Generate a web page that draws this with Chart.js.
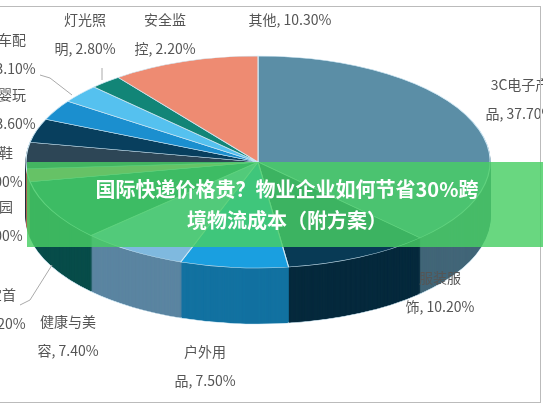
<!DOCTYPE html>
<html><head><meta charset="utf-8">
<script src="https://cdn.jsdelivr.net/npm/chart.js@4"></script>
<style>
body{margin:0;background:#fff;font-family:"Noto Sans CJK SC",sans-serif;}
#wrap{position:relative;width:543px;height:408px;overflow:hidden;}
#frame{position:absolute;left:-2px;top:6px;width:541px;height:395px;border:1px solid #bbb;pointer-events:none;}
#banner{position:absolute;left:27px;top:162px;width:520px;height:85px;background:rgba(72,206,100,0.82);
 color:#fff;font-weight:bold;font-size:20px;line-height:31px;text-align:center;padding-top:11px;box-sizing:border-box;}
</style></head>
<body><div id="wrap"><canvas id="c" width="543" height="408"></canvas><div id="frame"></div>
<div id="banner">国际快递价格贵？物业企业如何节省30%跨<br>境物流成本（附方案）</div></div>
<script>
const categories = ['3C电子产品','服装服饰','户外用品','健康与美容','珠宝首饰','家居园艺','箱包鞋首','母婴玩具','汽车配件','灯光照明','安全监控','其他'];
const shares = [37.7, 10.2, 7.5, 7.4, 9.2, 2.0, 4.0, 3.6, 3.1, 2.8, 2.2, 10.3];
const colors = ['#5b8ea6','#083a55','#1a9fe0','#7fb9df','#0b6b67','#ec8a70','#2d4656','#083f5e','#1b8fcf','#55c1ef','#128577','#ee8b72'];

// label layout (centre of first text line)
const labelPos = [[520,90],[440,283],[205,357],[68,327],[-5,300],[-8,212],[-8,158],[5,100],[5,45],[85,25],[165,25],[290,25]];

const CX = 258, CY = 162, RX = 232, RY = 106, DEPTH = 56;

function shade(hex, f) {
  const n = parseInt(hex.slice(1), 16);
  const r = Math.round(((n >> 16) & 255) * f), g = Math.round(((n >> 8) & 255) * f), b = Math.round((n & 255) * f);
  return `rgb(${r},${g},${b})`;
}

const pie3d = {
  id: 'pie3d',
  beforeDatasetsDraw(chart) {
    const ctx = chart.ctx;
    const arcs = chart.getDatasetMeta(0).data;
    const a0 = arcs[0];
    ctx.save();
    ctx.translate(CX, CY);
    ctx.scale(RX / a0.outerRadius, RY / a0.outerRadius);
    ctx.translate(-a0.x, -a0.y);
    const k = a0.outerRadius / RY;
    for (let d = DEPTH; d > 0; d -= 1) {
      ctx.save();
      ctx.translate(0, d * k);
      arcs.forEach((el, i) => {
        const bg = el.options.backgroundColor, bc = el.options.borderColor;
        el.options.backgroundColor = shade(colors[i], 0.72);
        el.options.borderColor = d === DEPTH ? '#cfe8f5' : shade(colors[i], 0.72);
        el.draw(ctx);
        el.options.backgroundColor = bg; el.options.borderColor = bc;
      });
      ctx.restore();
    }
  },
  afterDatasetsDraw(chart) {
    const ctx = chart.ctx;
    ctx.restore();
    ctx.save();
    ctx.fillStyle = '#555';
    ctx.font = '14px "Noto Sans CJK SC", sans-serif';
    ctx.textAlign = 'center';
    categories.forEach((name, i) => {
      const [x, y] = labelPos[i];
      const pct = shares[i].toFixed(2) + '%';
      if (name.length <= 2) {
        ctx.fillText(name + ', ' + pct, x, y);
      } else {
        ctx.fillText(name.slice(0, -1), x, y);
        ctx.fillText(name.slice(-1) + ', ' + pct, x, y + 29);
      }
    });
    // leader lines
    ctx.strokeStyle = '#aaa';
    ctx.lineWidth = 1;
    [[[40,75],[50,78],[72,95]],[[102,80],[102,68]],[[20,305],[30,300],[52,265]]].forEach(p => {
      ctx.beginPath(); ctx.moveTo(p[0][0], p[0][1]);
      p.slice(1).forEach(q => ctx.lineTo(q[0], q[1])); ctx.stroke();
    });
    ctx.restore();
  }
};

new Chart(document.getElementById('c'), {
  type: 'pie',
  data: { labels: categories, datasets: [{ data: shares, backgroundColor: colors, borderColor: '#cfe8f5', borderWidth: 1 }] },
  options: {
    responsive: false, animation: false,
    plugins: { legend: { display: false }, tooltip: { enabled: false } }
  },
  plugins: [pie3d]
});
</script></body></html>
